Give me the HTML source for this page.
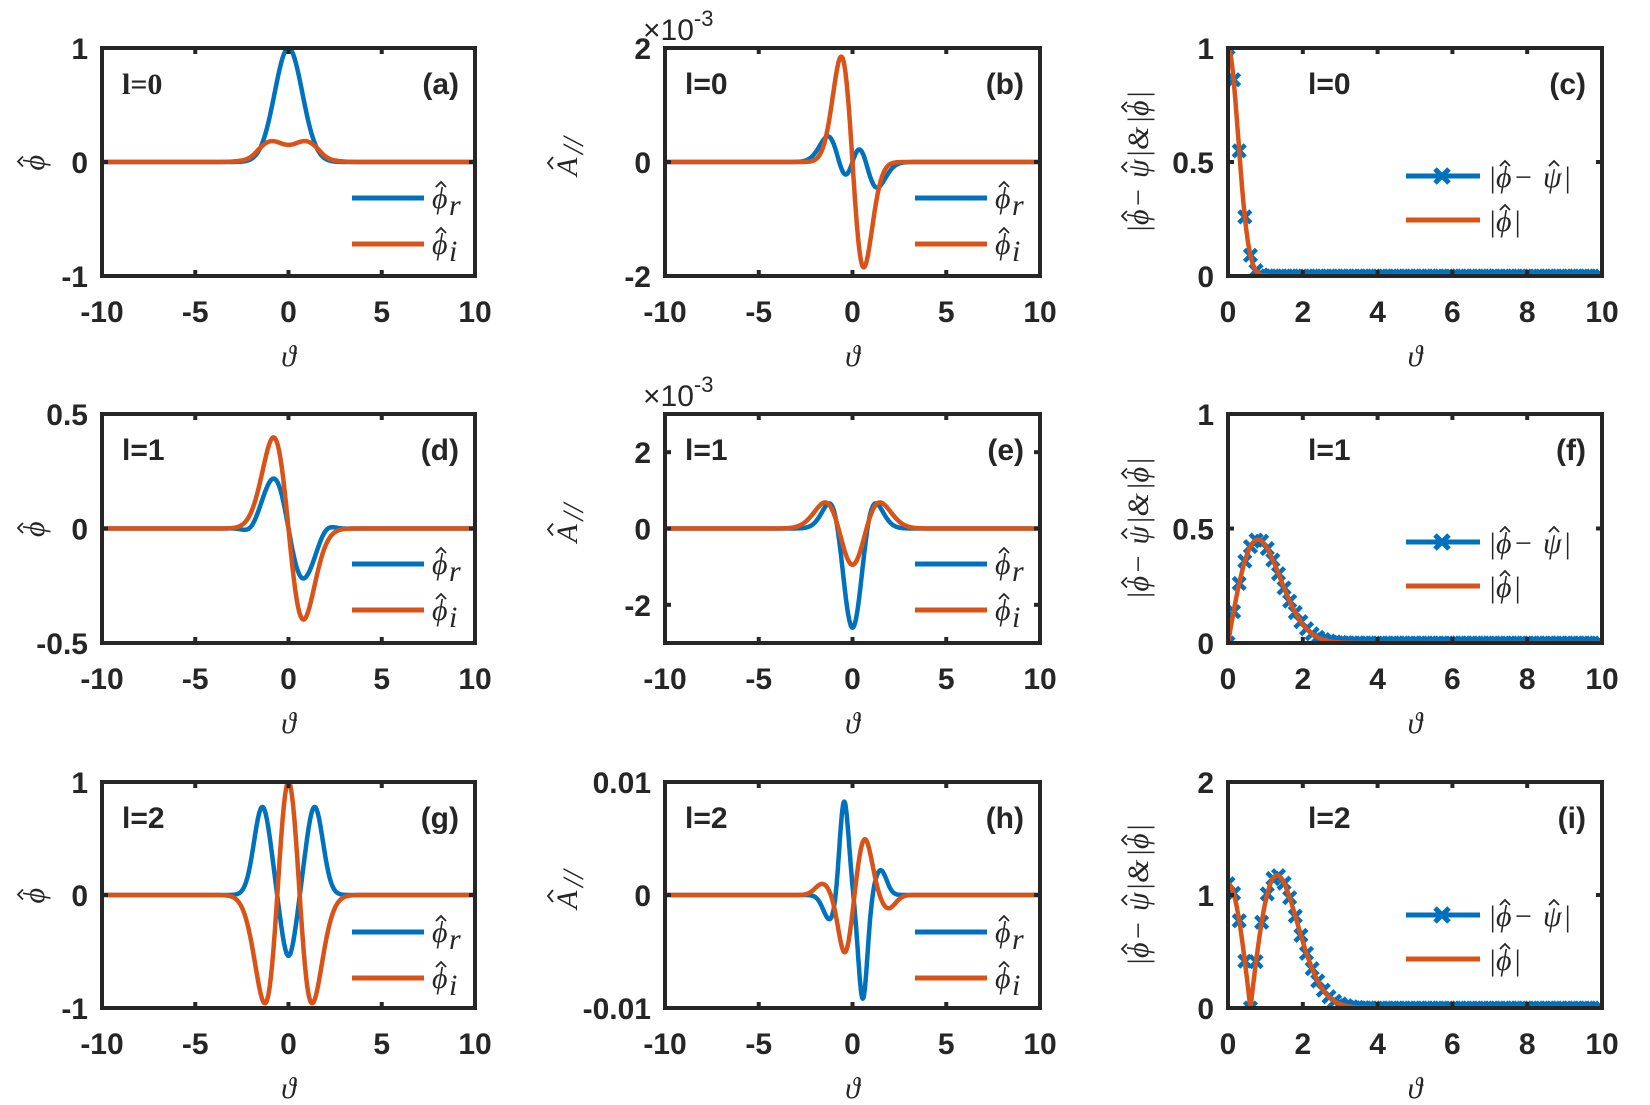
<!DOCTYPE html>
<html><head><meta charset="utf-8"><style>
html,body{margin:0;padding:0;background:#fff}
svg{display:block}
.tk{font-family:"Liberation Sans",Arial,sans-serif;font-weight:bold;font-size:30px;fill:#262626}
.mt{font-family:"Liberation Serif","DejaVu Serif",serif;font-style:italic;font-size:30px;fill:#262626}
</style></head><body>
<svg id="s" width="1650" height="1105" viewBox="0 0 1650 1105" xmlns="http://www.w3.org/2000/svg"></svg>
<script>
const S=document.getElementById('s');let out='';
const B='#0072BD',O='#D95319';
const G=(x,m,s)=>Math.exp(-(x-m)*(x-m)/s);
const cols=[[102,373],[665,375],[1228,374]];
const rows=[[48,228],[414,229],[782,226]];
// math token layout; returns svg string starting at local (0,0) baseline
function mathStr(tokens){
 let s='',x=0;
 for(const k of tokens){
  if(k.sub){s+=`<text class="mt" x="${x}" y="7" font-size="21">${k.t}</text>`;x+=k.w;continue;}
  const fs=k.up?'font-style="normal"':'';
  s+=`<text class="mt" ${fs} x="${x}" y="0">${k.t}</text>`;
  if(k.hat){const c=x+(k.hx||10);s+=`<path d="M${c-5} -21 L${c} -26 L${c+5} -21" fill="none" stroke="#262626" stroke-width="1.8"/>`;}
  x+=k.w;
 }
 return [s,x];
}
const PHI={t:'ϕ',hat:true,w:17,hx:9}, PSI={t:'ψ',hat:true,w:20,hx:11}, BAR={t:'|',w:8,up:true}, MIN={t:' − ',w:30,up:true};
const legR=[PHI,{t:'r',sub:true,w:10}], legI=[PHI,{t:'i',sub:true,w:8}];
const absDiff=[BAR,PHI,MIN,PSI,BAR], absPhi=[BAR,PHI,BAR];
const ylab3=[BAR,PHI,MIN,PSI,BAR,{t:'&amp;',w:26},BAR,PHI,BAR];
function place(tok,x,y,anchorMid,rot){
 const [s,w]=mathStr(tok);
 const ox=anchorMid?-w/2:0;
 return `<g transform="translate(${x},${y})${rot?' rotate(-90)':''}"><g transform="translate(${ox},0)">${s}</g></g>`;
}
const P=[
{c:0,r:0,xr:[-10,10],yr:[-1,1],yt:[[-1,'-1'],[0,'0'],[1,'1']],l:'l=0',serif:true,tag:'(a)',f:[x=>Math.exp(-x*x/1.1),x=>0.15*Math.exp(-x*x/1.5)*(1+1.36*x*x)-0.02*G(x,-2,0.3)-0.02*G(x,2,0.3)]},
{c:1,r:0,xr:[-10,10],yr:[-2,2],yt:[[-2,'-2'],[0,'0'],[2,'2']],l:'l=0',tag:'(b)',exp:true,f:[x=>-1.9*x*(x*x-0.5)*Math.exp(-x*x/0.9),x=>-5.08*x*Math.exp(-x*x/0.72)]},
{c:2,r:0,xr:[0,10],yr:[0,1],yt:[[0,'0'],[0.5,'0.5'],[1,'1']],l:'l=0',tag:'(c)',abs:x=>Math.exp(-x*x/0.15)},
{c:0,r:1,xr:[-10,10],yr:[-0.5,0.5],yt:[[-0.5,'-0.5'],[0,'0'],[0.5,'0.5']],l:'l=1',tag:'(d)',f:[x=>-0.45*x*Math.exp(-x*x/1.28)-0.03*G(x,-2,0.3)+0.03*G(x,2,0.3),x=>-0.82*x*Math.exp(-x*x/1.28)]},
{c:1,r:1,xr:[-10,10],yr:[-3,3],yt:[[-2,'-2'],[0,'0'],[2,'2']],l:'l=1',tag:'(e)',exp:true,f:[x=>-2.6*(1-1.56*x*x)*Math.exp(-x*x/0.9),x=>-0.95*(1-1.78*x*x)*Math.exp(-x*x/1.57)]},
{c:2,r:1,xr:[0,10],yr:[0,1],yt:[[0,'0'],[0.5,'0.5'],[1,'1']],l:'l=1',tag:'(f)',abs:x=>0.93*x*Math.exp(-x*x/1.28)},
{c:0,r:2,xr:[-10,10],yr:[-1,1],yt:[[-1,'-1'],[0,'0'],[1,'1']],l:'l=2',tag:'(g)',f:[x=>-0.55*G(x,0,0.3)+0.78*(G(x,1.4,0.4)+G(x,-1.4,0.4)),x=>(1-2.78*x*x)*Math.exp(-x*x/1.25)]},
{c:1,r:2,xr:[-10,10],yr:[-0.01,0.01],yt:[[-0.01,'-0.01'],[0,'0'],[0.01,'0.01']],l:'l=2',tag:'(h)',f:[x=>-0.0022*G(x,-1.2,0.25)+0.0085*G(x,-0.45,0.12)-0.0092*G(x,0.55,0.12)+0.0022*G(x,1.5,0.2),x=>0.001*G(x,-1.6,0.3)-0.0052*G(x,-0.4,0.25)+0.005*G(x,0.65,0.3)-0.0012*G(x,1.9,0.3)]},
{c:2,r:2,xr:[0,10],yr:[0,2],yt:[[0,'0'],[1,'1'],[2,'2']],l:'l=2',tag:'(i)',abs:x=>1.1*Math.abs(1-2.78*x*x)*Math.exp(-x*x/1.36)}
];
for(const p of P){
 const [L,W]=cols[p.c],[T,H]=rows[p.r];
 const X=v=>L+(v-p.xr[0])/(p.xr[1]-p.xr[0])*W, Y=v=>T+H-(v-p.yr[0])/(p.yr[1]-p.yr[0])*H;
 out+=`<svg x="${L}" y="${T}" width="${W}" height="${H}" overflow="hidden"><g transform="translate(${-L},${-T})">`;
 const path=(f,col)=>{let d='';for(let i=0;i<=800;i++){const x=p.xr[0]+(p.xr[1]-p.xr[0])*i/800;d+=(i?'L':'M')+X(x).toFixed(1)+' '+Y(f(x)).toFixed(1);}return `<path d="${d}" fill="none" stroke="${col}" stroke-width="4.5" stroke-linejoin="round"/>`;};
 if(p.f){out+=path(p.f[0],B)+path(p.f[1],O);}
 else{
  let m='';for(let x=0;x<=10.001;x+=0.15){const cx=X(x),cy=Y(p.abs(x));m+=`M${cx-6} ${cy-6}L${cx+6} ${cy+6}M${cx-6} ${cy+6}L${cx+6} ${cy-6}`;}
  out+=`<path d="${m}" stroke="${B}" stroke-width="4.5" fill="none"/>`;
  out+=path(p.abs,O);
 }
 out+='</g></svg>';
 out+=`<rect x="${L}" y="${T}" width="${W}" height="${H}" fill="none" stroke="#262626" stroke-width="4"/>`;
 const xt=p.xr[0]<0?[[-10,'-10'],[-5,'-5'],[0,'0'],[5,'5'],[10,'10']]:[[0,'0'],[2,'2'],[4,'4'],[6,'6'],[8,'8'],[10,'10']];
 for(const [v,s] of xt){const x=X(v);out+=`<line x1="${x}" y1="${T+H}" x2="${x}" y2="${T+H-6}" stroke="#262626" stroke-width="4"/><line x1="${x}" y1="${T}" x2="${x}" y2="${T+6}" stroke="#262626" stroke-width="4"/><text class="tk" x="${x}" y="${T+H+46}" text-anchor="middle">${s}</text>`;}
 for(const [v,s] of p.yt){const y=Y(v);out+=`<line x1="${L}" y1="${y}" x2="${L+6}" y2="${y}" stroke="#262626" stroke-width="4"/><line x1="${L+W}" y1="${y}" x2="${L+W-6}" y2="${y}" stroke="#262626" stroke-width="4"/><text class="tk" x="${L-14}" y="${y+11}" text-anchor="end">${s}</text>`;}
 out+=`<text class="mt" x="${L+W/2}" y="${T+H+90}" text-anchor="middle" font-size="32">ϑ</text>`;
 if(p.serif) out+=`<text x="${L+20}" y="${T+46}" font-family="Liberation Serif,serif" font-weight="bold" font-size="30" fill="#262626">${p.l}</text>`;
 else out+=`<text class="tk" x="${p.c==2?L+80:L+20}" y="${T+46}">${p.l}</text>`;
 out+=`<text class="tk" x="${L+W-16}" y="${T+46}" text-anchor="end">${p.tag}</text>`;
 if(p.exp) out+=`<text x="${L-22}" y="${T-8}" font-family="Liberation Sans,sans-serif" font-size="30" fill="#262626">×10<tspan dy="-14" font-size="22">-3</tspan></text>`;
 if(p.f){
  const lx=L+250,y1=T+150,y2=T+196;
  out+=`<line x1="${lx}" y1="${y1}" x2="${lx+72}" y2="${y1}" stroke="${B}" stroke-width="5"/><line x1="${lx}" y1="${y2}" x2="${lx+72}" y2="${y2}" stroke="${O}" stroke-width="5"/>`;
  out+=place(legR,lx+80,y1+10)+place(legI,lx+80,y2+10);
  if(p.c==0) out+=place([PHI],44,T+H/2,true,true);
  else out+=`<g transform="translate(${L-88},${T+H/2}) rotate(-90)"><text class="mt" x="-14" y="0">A</text><path d="M-7 -24 L-1 -29 L5 -24" fill="none" stroke="#262626" stroke-width="1.8"/><text class="mt" x="8" y="6" font-size="20" font-style="normal">//</text></g>`;
 } else {
  const lx=L+178,y1=T+(p.r==2?133:128),y2=y1+44;
  out+=`<line x1="${lx}" y1="${y1}" x2="${lx+74}" y2="${y1}" stroke="${B}" stroke-width="5"/><path d="M${lx+29} ${y1-7}L${lx+43} ${y1+7}M${lx+29} ${y1+7}L${lx+43} ${y1-7}" stroke="${B}" stroke-width="5"/><line x1="${lx}" y1="${y2}" x2="${lx+74}" y2="${y2}" stroke="${O}" stroke-width="5"/>`;
  out+=place(absDiff,lx+82,y1+11)+place(absPhi,lx+82,y2+11);
  out+=place(ylab3,L-80,T+H/2,true,true);
 }
}
S.innerHTML=out;
</script>
</body></html>
